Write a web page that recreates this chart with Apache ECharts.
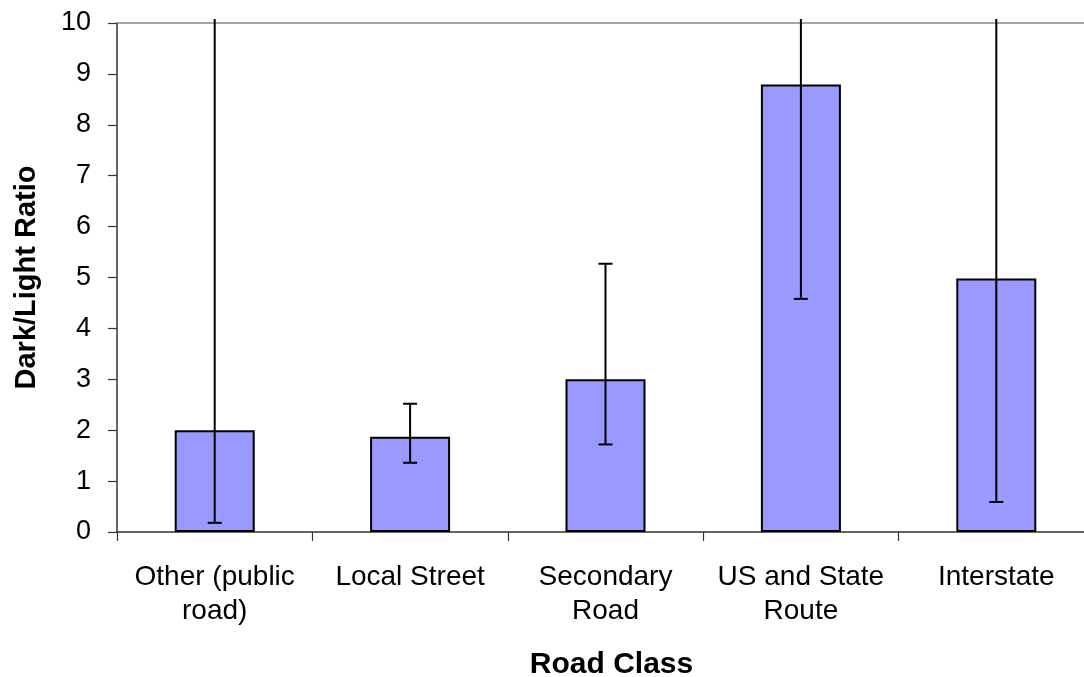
<!DOCTYPE html>
<html>
<head>
<meta charset="utf-8">
<style>
  html, body { margin: 0; padding: 0; background: #fff; overflow: hidden; }
  #chart { width: 1084px; height: 677px; }
</style>
<script src="https://cdn.jsdelivr.net/npm/echarts@6/dist/echarts.min.js"></script>
</head>
<body>
<div id="chart"></div>
<script>
// Dark/Light crash ratio by road class, with confidence intervals
const categories = ['Other (public\nroad)', 'Local Street', 'Secondary\nRoad', 'US and State\nRoute', 'Interstate'];
const ratio      = [2.0, 1.87, 3.0, 8.79, 4.98];
const lowerBound = [0.18, 1.36, 1.72, 4.58, 0.59];
// upper bounds beyond the axis maximum run off the top of the plot
const upperBound = [11, 2.52, 5.27, 11, 11];
const yTicks     = { min: 0, max: 10, interval: 1 };

const FONT = '"Liberation Sans", Arial, sans-serif';

const errorData = categories.map((_, i) => [i, lowerBound[i], upperBound[i]]);

const chart = echarts.init(document.getElementById('chart'), null, { renderer: 'canvas' });

chart.setOption({
  animation: false,
  backgroundColor: '#ffffff',
  grid: { left: 117, top: 23, right: -10, bottom: 145, outerBoundsMode: 'none', containLabel: false },
  xAxis: [{
    type: 'category',
    data: categories,
    boundaryGap: true,
    axisLine: { lineStyle: { color: '#333', width: 1.5 } },
    axisTick: { show: true, length: 9, lineStyle: { color: '#333', width: 1.2 } },
    axisLabel: {
      color: '#000', fontFamily: FONT, fontSize: 28, lineHeight: 34,
      margin: 28, interval: 0
    },
    name: 'Road Class',
    nameLocation: 'middle',
    nameGap: 118,
    nameTextStyle: { color: '#000', fontFamily: FONT, fontSize: 30, fontWeight: 'bold', padding: [0, 0, 0, 12] }
  }, {
    type: 'category',
    data: categories,
    position: 'top',
    axisLine: { lineStyle: { color: '#888', width: 1.5 } },
    axisTick: { show: false },
    axisLabel: { show: false }
  }],
  yAxis: {
    type: 'value',
    min: yTicks.min,
    max: yTicks.max,
    interval: yTicks.interval,
    axisLine: { show: true, lineStyle: { color: '#333', width: 1.5 } },
    axisTick: { show: true, length: 9, lineStyle: { color: '#333', width: 1.2 } },
    splitLine: { show: false },
    axisLabel: { color: '#000', fontFamily: FONT, fontSize: 27, margin: 26 },
    name: 'Dark/Light Ratio',
    nameLocation: 'middle',
    nameGap: 76,
    nameRotate: 90,
    nameTextStyle: { color: '#000', fontFamily: FONT, fontSize: 29, fontWeight: 'bold' }
  },
  series: [{
    type: 'bar',
    data: ratio,
    barWidth: 80,
    itemStyle: { color: '#9999ff', borderColor: '#000', borderWidth: 2 }
  }, {
    type: 'custom',
    data: errorData,
    clip: false,
    z: 10,
    renderItem: function (params, api) {
      const x = api.value(0);
      const lo = api.coord([x, api.value(1)]);
      const hi = api.coord([x, api.value(2)]);
      const topLimit = params.coordSys.y - 4;
      const half = 7;
      const style = { stroke: '#000', lineWidth: 2 };
      const children = [];
      const hiY = Math.max(hi[1], topLimit);
      children.push({ type: 'line', shape: { x1: lo[0], y1: lo[1], x2: lo[0], y2: hiY }, style: style });
      children.push({ type: 'line', shape: { x1: lo[0] - half, y1: lo[1], x2: lo[0] + half, y2: lo[1] }, style: style });
      if (hi[1] >= topLimit) {
        children.push({ type: 'line', shape: { x1: hi[0] - half, y1: hi[1], x2: hi[0] + half, y2: hi[1] }, style: style });
      }
      return { type: 'group', children: children };
    }
  }]
});
</script>
</body>
</html>
